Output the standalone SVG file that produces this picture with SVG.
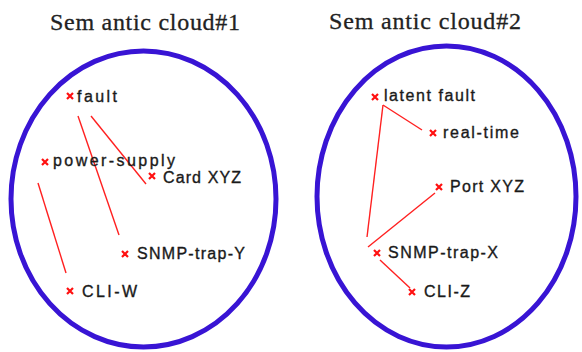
<svg xmlns="http://www.w3.org/2000/svg" width="582" height="352" viewBox="0 0 582 352">
<defs>
<style>
.cloud{fill:none;stroke:#3814d4;stroke-width:5}
.title{font-family:"Liberation Serif","Times New Roman",serif;font-size:24px;fill:#222;stroke:#222;stroke-width:0.3}
.lbl{font-family:"Liberation Sans",Arial,sans-serif;font-size:16px;fill:#1a1a1a;stroke:#1a1a1a;stroke-width:0.35}
.edge{stroke:#ff2020;stroke-width:1.4;fill:none}
.mk{stroke:#ff1010;stroke-width:2.2;fill:none}
</style>
<symbol id="x" viewBox="-4 -4 8 8" width="8" height="8" overflow="visible">
<path class="mk" d="M-3,-3L3,3M3,-3L-3,3"/>
</symbol>
</defs>
<rect width="582" height="352" fill="#fff"/>
<g id="cloud1">
<ellipse class="cloud" cx="143.5" cy="199" rx="132.5" ry="148"/>
<text class="title" x="50" y="30" textLength="190" lengthAdjust="spacing">Sem antic cloud#1</text>
</g>
<g id="cloud2">
<ellipse class="cloud" cx="446.5" cy="196.5" rx="129.5" ry="150.5"/>
<text class="title" x="329" y="29" textLength="192" lengthAdjust="spacing">Sem antic cloud#2</text>
</g>
<g id="connectors">
<line class="edge" x1="78" y1="116" x2="119" y2="235"/>
<line class="edge" x1="91" y1="116" x2="146" y2="184"/>
<line class="edge" x1="38" y1="183" x2="66" y2="273"/>
<line class="edge" x1="383" y1="105" x2="422" y2="130"/>
<line class="edge" x1="383" y1="105" x2="367" y2="237"/>
<line class="edge" x1="435" y1="193" x2="368" y2="247"/>
<line class="edge" x1="380" y1="260" x2="410" y2="288"/>
</g>
<g id="n-fault"><use href="#x" x="66" y="92"/><text class="lbl" x="77" y="102" textLength="40" lengthAdjust="spacing">fault</text></g>
<g id="n-power-supply"><use href="#x" x="41" y="158"/><text class="lbl" x="53" y="166" textLength="122" lengthAdjust="spacing">power-supply</text></g>
<g id="n-card-xyz"><use href="#x" x="148" y="172"/><text class="lbl" x="163" y="183" textLength="78" lengthAdjust="spacing">Card XYZ</text></g>
<g id="n-snmp-trap-y"><use href="#x" x="121" y="250"/><text class="lbl" x="137" y="259" textLength="108" lengthAdjust="spacing">SNMP-trap-Y</text></g>
<g id="n-cli-w"><use href="#x" x="66" y="287"/><text class="lbl" x="82" y="297" textLength="55" lengthAdjust="spacing">CLI-W</text></g>
<g id="n-latent-fault"><use href="#x" x="371" y="93"/><text class="lbl" x="384" y="101" textLength="91" lengthAdjust="spacing">latent fault</text></g>
<g id="n-real-time"><use href="#x" x="429" y="129"/><text class="lbl" x="443" y="138" textLength="76" lengthAdjust="spacing">real-time</text></g>
<g id="n-port-xyz"><use href="#x" x="435" y="183"/><text class="lbl" x="450" y="192" textLength="74" lengthAdjust="spacing">Port XYZ</text></g>
<g id="n-snmp-trap-x"><use href="#x" x="373" y="249"/><text class="lbl" x="388" y="258" textLength="110" lengthAdjust="spacing">SNMP-trap-X</text></g>
<g id="n-cli-z"><use href="#x" x="408" y="288"/><text class="lbl" x="424" y="297" textLength="46" lengthAdjust="spacing">CLI-Z</text></g>
</svg>
